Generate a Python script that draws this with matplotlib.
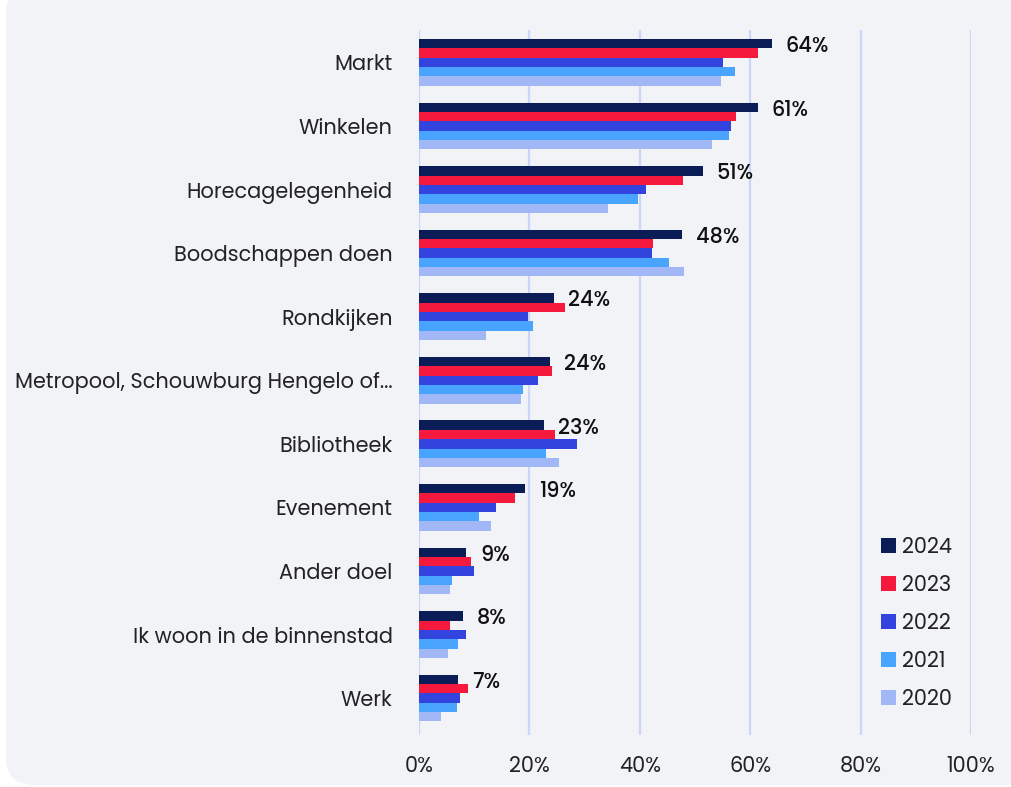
import matplotlib
matplotlib.use("Agg")
import numpy as np
import matplotlib.pyplot as plt
from matplotlib.patches import FancyBboxPatch, Patch
from matplotlib.transforms import IdentityTransform

# =========================
# DATOS
# =========================

categorias = [
    "Markt",
    "Winkelen",
    "Horecagelegenheid",
    "Boodschappen doen",
    "Rondkijken",
    "Metropool, Schouwburg Hengelo of...",
    "Bibliotheek",
    "Evenement",
    "Ander doel",
    "Ik woon in de binnenstad",
    "Werk",
]

jaren = ["2024", "2023", "2022", "2021", "2020"]

v2024 = [63.9, 61.4, 51.4, 47.6, 24.4, 23.8, 22.6, 19.2, 8.6, 8.0, 7.1]
v2023 = [61.5, 57.5, 47.9, 42.4, 26.5, 24.1, 24.7, 17.4, 9.4, 5.7, 8.9]
v2022 = [55.0, 56.5, 41.1, 42.2, 19.8, 21.6, 28.7, 14.0, 10.0, 8.6, 7.5]
v2021 = [57.3, 56.2, 39.7, 45.3, 20.7, 18.9, 23.0, 10.9, 6.0, 7.1, 6.9]
v2020 = [54.7, 53.0, 34.3, 48.0, 12.1, 18.4, 25.3, 13.1, 5.7, 5.3, 4.0]

series = [v2024, v2023, v2022, v2021, v2020]
colores = ["#0b1d56", "#f5193e", "#3344de", "#48a4ff", "#a1b7f6"]

plt.rcParams["font.family"] = ["Poppins", "DejaVu Sans"]

# =========================
# GRAFICA
# =========================

fig = plt.figure(figsize=(10.12, 7.87), dpi=100, facecolor="white")

fondo = FancyBboxPatch((6, 2), 1030, 800, boxstyle="round,pad=0,rounding_size=28",
                       transform=IdentityTransform(), facecolor="#f1f3f7",
                       edgecolor="none", zorder=-10)
fig.patches.append(fondo)

ax = fig.add_axes([419 / 1012, 1 - 735 / 787, 552 / 1012, 705 / 787])
ax.set_facecolor("none")

y = np.arange(len(categorias))
alto = 0.147

for i, (vals, col, jr) in enumerate(zip(series, colores, jaren)):
    ax.barh(y + (i - 2) * alto, vals, height=alto, color=col, label=jr, zorder=3)

# etiquetas del 2024
for yi, v in zip(y, v2024):
    ax.annotate(f"{round(v)}%", xy=(v, yi - 2 * alto), xytext=(10, -2.5),
                textcoords="offset points", va="center", ha="left",
                fontsize=15, fontweight="medium", color="#111111")

ax.set_xlim(0, 100)
ax.set_ylim(10.58, -0.51)
ax.set_xticks(np.arange(0, 101, 20))
ax.set_xticklabels([f"{t}%" for t in range(0, 101, 20)])
ax.set_yticks(y)
ax.set_yticklabels(categorias)

ax.xaxis.grid(True, color="#c9d6f8", linewidth=1.6, zorder=0)
ax.set_axisbelow(True)
for s in ax.spines.values():
    s.set_visible(False)

ax.tick_params(axis="both", length=0, labelsize=15, colors="#222222")
ax.tick_params(axis="y", pad=19)
ax.tick_params(axis="x", pad=15)
for t in ax.get_yticklabels():
    t.set_va("center_baseline")

handles = [Patch(facecolor=c, label=j) for c, j in zip(colores, jaren)]
ax.legend(handles=handles, loc="upper left", bbox_to_anchor=(881 / 1012, 1 - 537 / 787),
          bbox_transform=fig.transFigure, frameon=False, fontsize=15,
          handlelength=0.72, handleheight=0.72, handletextpad=0.3,
          labelspacing=0.77, borderpad=0, borderaxespad=0, labelcolor="#222222")

fig.savefig("out.png", dpi=100, facecolor="white")
